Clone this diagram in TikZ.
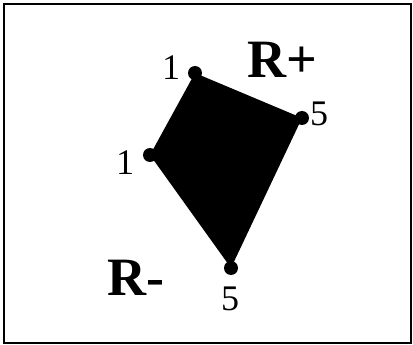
\documentclass[tikz,border=0pt]{standalone}
\usepackage{fontspec}
\setmainfont{Liberation Serif}
\usepackage{tikz}
\usetikzlibrary{positioning}

\begin{document}
\begin{tikzpicture}[
  x=1pt,y=-1pt,
  frame/.style={draw=black,line width=2pt},
  vertex/.style={circle,fill=black,inner sep=0pt,minimum size=14pt},
  num/.style={anchor=base,inner sep=0pt,font=\fontsize{36}{36}\selectfont},
  region/.style={anchor=base,inner sep=0pt,font=\fontsize{54}{54}\selectfont\bfseries}
]
\useasboundingbox (0,0) rectangle (413,345);
\draw[frame] (3.5,4.5) rectangle (410.5,342.5);

% corners of the region
\node[vertex] (top) at (195,73) {};
\node[vertex] (right) at (302,118) {};
\node[vertex] (bottom) at (231,268) {};
\node[vertex] (left) at (150,155) {};
\fill[black] (top.center) -- (right.center) -- (bottom.center) -- (left.center) -- cycle;

% weights
\node[num] (ntop) at (171,80) {1};
\node[num] (nright) at (319,126) {5};
\node[num] (nbottom) at (230,310) {5};
\node[num] (nleft) at (125,175) {1};

\node[region] (rplus) at (282,78) {R+};
\node[region] (rminus) at (136,295) {R-};
\end{tikzpicture}
\end{document}
